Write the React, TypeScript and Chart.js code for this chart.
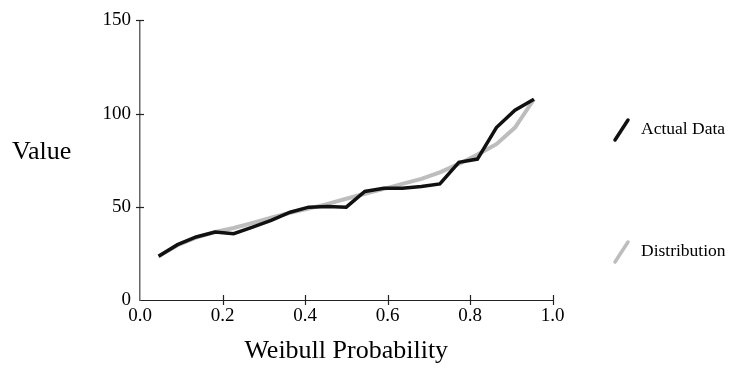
import React, { useEffect, useRef } from "react";
import { Chart, registerables } from "chart.js";

Chart.register(...registerables);

const probabilities = [0.045, 0.091, 0.136, 0.182, 0.227, 0.273, 0.318, 0.364, 0.409, 0.455, 0.5, 0.545, 0.591, 0.636, 0.682, 0.727, 0.773, 0.818, 0.864, 0.909, 0.955];
const actualData = [23.5, 29.7, 33.8, 36.5, 35.6, 39.1, 42.7, 47.1, 49.8, 50.2, 49.8, 58.2, 60, 60, 60.9, 62.3, 73.9, 75.6, 92.5, 101.8, 107.7];
const distribution = [23.5, 29.4, 33.5, 36.5, 38.6, 41.3, 44.1, 46.8, 49, 51.6, 54.3, 57, 59.6, 62.3, 65, 68.5, 73, 78, 83.6, 92.5, 107.7];
const xTicks = [0, 0.2, 0.4, 0.6, 0.8, 1.0];
const yTicks = [0, 50, 100, 150];
const seriesNames = ["Actual Data", "Distribution"];
const seriesColors = ["#111111", "#bdbdbd"];
const xTitle = "Weibull Probability";
const yTitle = "Value";

const FONT = "'Liberation Serif', 'Times New Roman', serif";

const decorPlugin = {
  id: "decor",
  afterDraw(chart: any) {
    const ctx = chart.ctx as CanvasRenderingContext2D;
    const xs = chart.scales.x;
    const ys = chart.scales.y;
    const area = chart.chartArea;
    ctx.save();
    // tick marks crossing axes
    ctx.strokeStyle = "#222";
    ctx.lineWidth = 1.2;
    xTicks.forEach((t) => {
      if (t === 0) return;
      const px = Math.round(xs.getPixelForValue(t)) + 0.5;
      ctx.beginPath();
      ctx.moveTo(px, area.bottom - 5);
      ctx.lineTo(px, area.bottom + 5);
      ctx.stroke();
    });
    yTicks.forEach((t) => {
      if (t === 0) return;
      const py = Math.round(ys.getPixelForValue(t)) + 0.5;
      ctx.beginPath();
      ctx.moveTo(area.left - 4, py);
      ctx.lineTo(area.left + 4, py);
      ctx.stroke();
    });
    // titles
    ctx.fillStyle = "#000";
    ctx.font = `26px ${FONT}`;
    ctx.textBaseline = "middle";
    ctx.textAlign = "left";
    ctx.fillText(yTitle, 12, 152);
    ctx.textAlign = "center";
    ctx.fillText(xTitle, (area.left + area.right) / 2, 351);
    // legend
    const legendY = [130, 252];
    seriesNames.forEach((name, i) => {
      const y = legendY[i];
      ctx.strokeStyle = seriesColors[i];
      ctx.lineWidth = 3.5;
      ctx.lineCap = "round";
      ctx.beginPath();
      ctx.moveTo(615, y + 10);
      ctx.lineTo(628, y - 10);
      ctx.stroke();
      ctx.fillStyle = "#000";
      ctx.font = `17.5px ${FONT}`;
      ctx.textAlign = "left";
      ctx.textBaseline = "middle";
      ctx.fillText(name, 641, y - 1);
    });
    ctx.restore();
  },
};

export default function App() {
  const ref = useRef<HTMLCanvasElement | null>(null);
  useEffect(() => {
    if (!ref.current) return;
    const chart = new Chart(ref.current, {
      type: "line",
      data: {
        datasets: [
          {
            label: seriesNames[0],
            data: probabilities.map((p, i) => ({ x: p, y: actualData[i] })),
            borderColor: seriesColors[0],
            borderWidth: 3.5,
            pointRadius: 0,
            tension: 0,
          },
          {
            label: seriesNames[1],
            data: probabilities.map((p, i) => ({ x: p, y: distribution[i] })),
            borderColor: seriesColors[1],
            borderWidth: 4,
            pointRadius: 0,
            tension: 0,
          },
        ],
      },
      options: {
        responsive: false,
        animation: false,
        layout: { padding: { left: 0, right: 177.5, top: 19, bottom: 0 } },
        plugins: { legend: { display: false }, tooltip: { enabled: false } },
        scales: {
          x: {
            type: "linear",
            min: 0,
            max: 1,
            afterFit: (s: any) => {
              s.height = 69;
            },
            afterBuildTicks: (s: any) => {
              s.ticks = xTicks.map((v) => ({ value: v }));
            },
            grid: { display: false, drawTicks: false, tickLength: 0 },
            border: { display: true, color: "#222", width: 1 },
            ticks: {
              color: "#000",
              font: { family: FONT, size: 19 },
              padding: 5,
              maxRotation: 0,
              callback: (v: any) => Number(v).toFixed(1),
            },
          },
          y: {
            type: "linear",
            min: 0,
            max: 150,
            afterFit: (s: any) => {
              s.width = 140;
            },
            afterBuildTicks: (s: any) => {
              s.ticks = yTicks.map((v) => ({ value: v }));
            },
            grid: { display: false, drawTicks: false, tickLength: 0 },
            border: { display: true, color: "#666", width: 1.5 },
            ticks: {
              color: "#000",
              font: { family: FONT, size: 19 },
              padding: 9,
              callback: (v: any) => String(v),
            },
          },
        },
      },
      plugins: [decorPlugin],
    });
    return () => chart.destroy();
  }, []);
  return (
    <div style={{ position: "fixed", left: 0, top: 0, width: 730, height: 369, background: "#fff" }}>
      <canvas ref={ref} width={730} height={369} style={{ display: "block" }} />
    </div>
  );
}
